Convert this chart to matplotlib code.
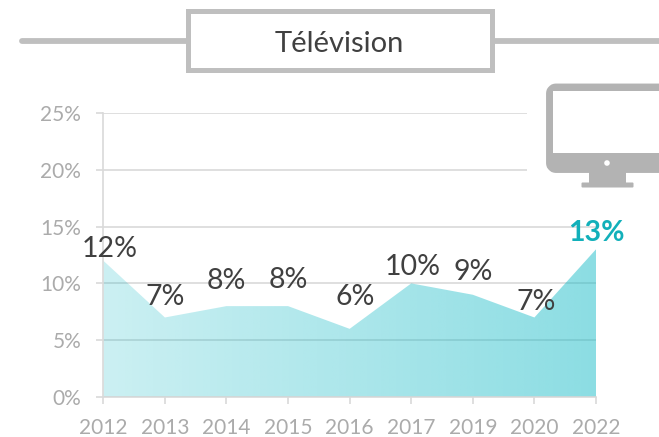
import numpy as np
import matplotlib
matplotlib.use('Agg')
import matplotlib.pyplot as plt
from matplotlib.patches import Rectangle, FancyBboxPatch, Circle, Polygon

plt.rcParams['font.family'] = ['Lato', 'DejaVu Sans']

W, H = 659, 437

# data
years = ['2012', '2013', '2014', '2015', '2016', '2017', '2019', '2020', '2022']
values = [12, 7, 8, 8, 6, 10, 9, 7, 13]
y_ticks = [0, 5, 10, 15, 20, 25]

# label offsets from the point, in points
label_dx = [4.5, 0, 0, 0, 4, 1, 0, 1, 0]
label_dy = [8.5, 14.5, 18, 18.5, 23, 12, 16.5, 11, 12]

GREY_TXT = '#ABABAB'
DARK_TXT = '#404040'
TEAL = '#12B0BA'
FILL = '#14BAC6'
FRAME = '#BFBFBF'

fig = plt.figure(figsize=(W / 100, H / 100), dpi=100)

# main chart, placed in pixels
ax = fig.add_axes([103.3 / W, (H - 397) / H, (596 - 103.3) / W, 284 / H])
x = np.arange(len(years))
ax.set_xlim(0, len(years) - 1)
ax.set_ylim(0, 25)
ax.set_yticks(y_ticks)
ax.set_yticklabels([f'{v}%' for v in y_ticks])
ax.set_xticks(x)
ax.set_xticklabels(years)
ax.tick_params(axis='x', length=5, width=1.2, color='#D9D9D9', labelcolor=GREY_TXT,
               labelsize=15, pad=10)
ax.tick_params(axis='y', length=5, width=1.2, color='#D9D9D9', labelcolor=GREY_TXT,
               labelsize=15, pad=11)
ax.grid(axis='y', color='#D9D9D9', lw=1.2)
ax.set_axisbelow(True)
for side in ['top', 'right']:
    ax.spines[side].set_visible(False)
for side in ['left', 'bottom']:
    ax.spines[side].set_color('#D9D9D9')
    ax.spines[side].set_linewidth(1.2)

# area with a left to right gradient, clipped to the series
poly = Polygon(list(zip(x, values)) + [(x[-1], 0), (x[0], 0)], closed=True,
               transform=ax.transData, fc='none', ec='none')
ax.add_patch(poly)
grad = np.zeros((1, 256, 4))
grad[..., :3] = matplotlib.colors.to_rgb(FILL)
grad[..., 3] = np.linspace(0.22, 0.49, 256)
im = ax.imshow(grad, extent=[0, len(years) - 1, 0, 25], aspect='auto', zorder=2,
               interpolation='bilinear')
im.set_clip_path(poly)

# data labels
for i, v in enumerate(values):
    last = i == len(values) - 1
    ax.annotate(f'{v}%', (x[i], v), xytext=(label_dx[i], label_dy[i]),
                textcoords='offset points', ha='center', va='center',
                fontsize=20.5, fontweight='bold' if last else 'normal',
                color=TEAL if last else DARK_TXT, zorder=5, annotation_clip=False)

# overlay in pixel coords for the title band and the icon
ov = fig.add_axes([0, 0, 1, 1], zorder=-1)
ov.set_xlim(0, W)
ov.set_ylim(H, 0)
ov.axis('off')
ov.plot([22, 659], [41, 41], color=FRAME, lw=4.2, solid_capstyle='round')
top = fig.add_axes([0, 0, 1, 1], zorder=10)
top.set_xlim(0, W)
top.set_ylim(H, 0)
top.axis('off')
top.patch.set_alpha(0)
top.add_patch(Rectangle((188, 11), 303.5, 59, fc='white', ec=FRAME, lw=3.6))
top.text(339, 44, 'Télévision', ha='center', va='center', fontsize=21, color=DARK_TXT)

# white block hides the grid behind the icon, then the monitor itself
ICON = '#B3B3B3'
top.add_patch(Rectangle((527, 100), 132, 100, fc='white', ec='none'))
top.add_patch(FancyBboxPatch((553, 90.5), 130, 75.5, boxstyle='round,pad=0,rounding_size=3',
                             fc=ICON, ec=ICON, lw=10, joinstyle='round'))
top.add_patch(Rectangle((553, 91), 120, 62, fc='white', ec='none'))
top.add_patch(Circle((607, 163), 2.8, fc='white', ec='none'))
top.add_patch(Rectangle((589, 172), 37, 11, fc=ICON, ec='none'))
top.add_patch(FancyBboxPatch((581.5, 182.5), 52, 5, boxstyle='round,pad=0,rounding_size=1',
                             fc=ICON, ec='none'))

fig.savefig('out.png', dpi=100)
